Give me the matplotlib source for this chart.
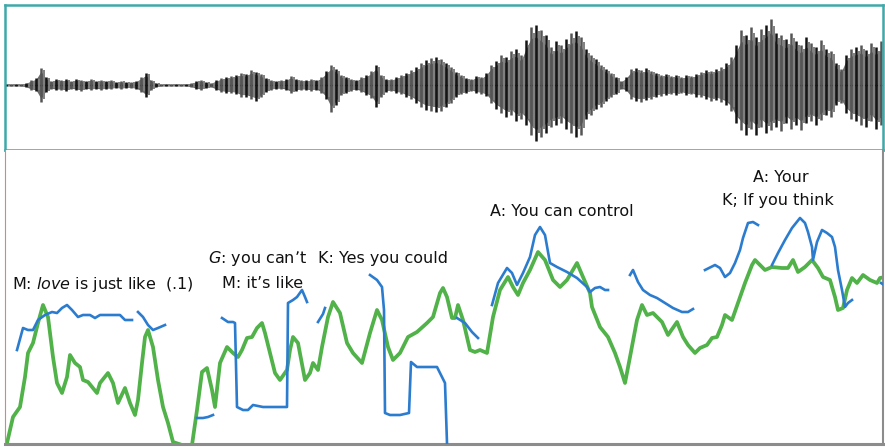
"""Waveform with pitch (blue) and intensity (green) traces and speaker labels."""

import matplotlib

matplotlib.use("Agg")
import matplotlib.pyplot as plt

# --- waveform envelope: sample every 5 units from x=6, amplitude above / below centre
wave_x0, wave_step = 6, 5
wave_top = [1, 1, 1, 1, 2, 5, 7, 17, 8, 4, 6, 5, 6, 4, 6, 5, 4, 6, 4, 5,
            4, 5, 3, 4, 3, 3, 4, 8, 12, 5, 2, 1, 1, 1, 1, 1, 1, 2, 4, 5,
            3, 2, 5, 7, 8, 9, 10, 12, 11, 15, 13, 11, 7, 5, 4, 5, 6, 9, 6, 5,
            5, 6, 5, 8, 14, 20, 16, 10, 8, 6, 5, 8, 10, 14, 20, 10, 6, 6, 8, 10,
            12, 15, 18, 22, 25, 27, 28, 26, 22, 18, 13, 10, 7, 6, 9, 8, 12, 20, 24, 30,
            28, 34, 36, 30, 45, 58, 60, 55, 50, 38, 44, 40, 46, 52, 54, 48, 36, 30, 26, 20,
            16, 12, 8, 4, 8, 16, 17, 15, 17, 14, 12, 10, 11, 9, 10, 8, 10, 9, 11, 13,
            15, 14, 16, 18, 22, 28, 40, 55, 50, 58, 48, 56, 60, 66, 52, 50, 46, 52, 44, 40,
            48, 42, 38, 45, 36, 34, 22, 16, 30, 36, 38, 40, 35, 42, 38, 44]
wave_bot = [1, 1, 1, 1, 2, 5, 6, 17, 7, 4, 5, 5, 6, 4, 5, 6, 4, 5, 4, 5,
            4, 4, 3, 4, 3, 3, 4, 7, 12, 5, 2, 1, 1, 1, 1, 1, 1, 2, 4, 5,
            3, 2, 5, 7, 8, 8, 9, 12, 12, 14, 16, 12, 7, 5, 4, 4, 5, 8, 6, 5,
            5, 6, 5, 8, 14, 27, 20, 10, 8, 6, 5, 7, 10, 13, 22, 12, 7, 6, 8, 9,
            12, 14, 18, 22, 25, 26, 27, 26, 22, 18, 12, 9, 8, 6, 8, 9, 11, 18, 24, 28,
            32, 30, 36, 34, 40, 50, 56, 52, 48, 42, 40, 38, 44, 48, 52, 50, 34, 30, 24, 22,
            16, 12, 9, 4, 6, 14, 16, 17, 15, 14, 12, 11, 10, 9, 10, 8, 10, 9, 12, 12,
            14, 16, 15, 17, 20, 26, 38, 45, 50, 44, 50, 42, 48, 45, 42, 46, 38, 44, 40, 45,
            38, 36, 40, 35, 30, 32, 20, 18, 28, 34, 36, 40, 42, 36, 44, 40]

# --- intensity contour (green)
int_x = [7, 13, 20, 25, 28, 33, 38, 43, 48, 53, 57, 62, 67, 70, 75, 80, 83, 88, 97, 100,
         108, 113, 118, 125, 130, 135, 138, 142, 145, 148, 153, 158, 163, 168, 173, 182, 192, 197, 202, 207,
         212, 215, 220, 227, 233, 238, 242, 247, 252, 257, 262, 265, 270, 275, 280, 287, 290, 293, 298, 305,
         310, 313, 318, 322, 328, 333, 340, 347, 353, 362, 370, 377, 382, 388, 393, 400, 408, 417, 427, 433,
         440, 443, 447, 452, 455, 458, 463, 470, 475, 480, 487, 493, 500, 508, 513, 518, 523, 530, 538, 545,
         553, 560, 567, 577, 583, 590, 592, 600, 608, 615, 620, 625, 630, 637, 642, 647, 653, 662, 668, 677,
         683, 688, 695, 700, 707, 712, 717, 722, 725, 732, 738, 745, 752, 755, 760, 765, 772, 782, 788, 793,
         798, 805, 812, 818, 823, 830, 835, 838, 843, 847, 852, 857, 863, 870, 877, 880, 885]
int_y = [1, 27, 37, 67, 91, 101, 121, 139, 127, 87, 61, 51, 67, 89, 81, 77, 64, 62, 51, 61,
         71, 61, 41, 56, 41, 29, 44, 81, 107, 114, 97, 64, 37, 21, 2, -1, -1, 34, 72, 76,
         54, 37, 81, 97, 91, 87, 94, 106, 107, 116, 121, 111, 91, 71, 64, 74, 94, 107, 101, 64,
         71, 81, 74, 97, 127, 142, 131, 101, 91, 81, 111, 134, 124, 97, 84, 91, 107, 112, 121, 127,
         151, 156, 147, 126, 126, 139, 124, 94, 92, 94, 91, 127, 154, 167, 157, 149, 161, 174, 192, 184,
         164, 157, 164, 181, 167, 151, 137, 117, 107, 91, 77, 61, 87, 124, 139, 129, 131, 122, 109, 122,
         107, 99, 91, 96, 99, 106, 107, 119, 129, 124, 141, 161, 179, 184, 179, 174, 177, 176, 176, 184,
         172, 177, 184, 176, 167, 164, 147, 134, 136, 154, 166, 161, 169, 164, 161, 166, 167]

# --- pitch contour (blue), one list pair per voiced stretch
pitch_segments = [
    ([17, 23, 28, 33, 38, 45, 52, 57, 62, 67, 72, 78, 83, 90, 95, 100, 107, 113, 120, 125, 132],
     [94, 116, 114, 114, 124, 129, 132, 131, 136, 139, 134, 127, 129, 129, 126, 129, 129, 129, 129, 124, 124]),
    ([138, 143, 148, 153, 158, 165],
     [132, 127, 119, 114, 116, 119]),
    ([197, 203, 208, 213],
     [26, 26, 27, 29]),
    ([222, 228, 233, 235, 237, 243, 248, 253, 263, 273, 285, 287, 288, 293, 297, 302, 305, 307],
     [126, 122, 122, 121, 37, 34, 34, 39, 37, 37, 37, 37, 141, 144, 147, 154, 147, 142]),
    ([318, 323, 325],
     [122, 130, 136]),
    ([370, 377, 382, 384, 385, 390, 400, 409, 411, 417, 427, 437, 442, 445, 447],
     [169, 164, 157, 134, 31, 29, 29, 31, 82, 77, 77, 77, 67, 61, 1]),
    ([457, 465, 472, 478],
     [126, 121, 112, 106]),
    ([492, 498, 507, 512, 517, 523, 530, 535, 540, 545, 550, 557, 567, 577, 587, 590, 595, 600, 605, 608],
     [139, 161, 176, 171, 159, 171, 187, 209, 217, 209, 181, 177, 172, 166, 157, 152, 156, 157, 154, 154]),
    ([630, 633, 638, 643, 650, 657, 665, 673, 682, 688, 693],
     [169, 174, 162, 154, 149, 146, 141, 136, 132, 132, 135]),
    ([705, 715, 720, 725, 730, 735, 740, 743, 748, 753, 758],
     [174, 179, 176, 167, 171, 181, 194, 206, 221, 222, 219]),
    ([772, 778, 785, 792, 800, 805, 808, 812, 813, 817, 822, 827, 832, 835, 838, 842, 845, 848, 852],
     [179, 191, 204, 216, 226, 221, 212, 197, 184, 202, 214, 211, 207, 197, 174, 154, 137, 141, 144]),
    ([881, 884],
     [161, 159]),
]

# --- transcript labels: text, x, height, horizontal alignment
label_text = ["M: $\\it{love}$ is just like  (.1)", "$\\it{G}$: you can\u2019t", "M: it\u2019s like",
              "K: Yes you could", "A: You can control", "A: Your", "K; If you think"]
label_x = [12, 208, 222, 318, 490, 781, 778]
label_h = [160, 186, 161, 185, 232, 266, 244]
label_ha = ["left", "left", "left", "left", "left", "center", "center"]

TEAL = "#3fa9aa"
GREEN = "#50b248"
BLUE = "#2b7ccf"

W, H = 885, 447
fig = plt.figure(figsize=(W / 100, H / 100), dpi=100)
fig.patch.set_facecolor("white")

# top panel: waveform
ax_w = fig.add_axes([5 / W, (H - 150) / H, 878 / W, 145 / H])
wx = [wave_x0 + wave_step * i for i in range(len(wave_top))]
ax_w.fill_between(wx, [-0.8 * b for b in wave_bot], [0.8 * t for t in wave_top],
                  color="#6a6a6a", lw=0, zorder=1)
ax_w.axhline(0, color="#222222", lw=1.0, zorder=1)
for i, (x, t, b) in enumerate(zip(wx, wave_top, wave_bot)):
    col = "#151515" if i % 2 == 0 else "#555555"
    ax_w.vlines(x, -b, t, color=col, lw=1.8, zorder=2)
    ax_w.vlines(x + 2.5, -0.85 * b, 0.9 * t, color="#808080", lw=1.4, zorder=2)
ax_w.set_xlim(5, 883)
ax_w.set_ylim(-65, 80)
ax_w.set_xticks([])
ax_w.set_yticks([])
for s in ax_w.spines.values():
    s.set_color(TEAL)
    s.set_linewidth(1.8)

# bottom panel: pitch and intensity
ax = fig.add_axes([5 / W, (H - 444) / H, 878 / W, 294 / H])
ax.plot(int_x, int_y, color=GREEN, lw=2.7, solid_joinstyle="round", zorder=2)
for sx, sy in pitch_segments:
    ax.plot(sx, sy, color=BLUE, lw=1.9, solid_joinstyle="round", zorder=3)
for txt, x, h, ha in zip(label_text, label_x, label_h, label_ha):
    ax.text(x, h, txt, ha=ha, va="center", fontsize=11.5, color="#111111", zorder=4)
ax.set_xlim(5, 883)
ax.set_ylim(0, 294)
ax.set_xticks([])
ax.set_yticks([])
ax.spines["top"].set_visible(False)
ax.spines["left"].set_color("#e08080")
ax.spines["left"].set_linewidth(0.8)
ax.spines["right"].set_color("#8c8c8c")
ax.spines["right"].set_linewidth(1.5)
ax.spines["bottom"].set_color("#8c8c8c")
ax.spines["bottom"].set_linewidth(2.2)

fig.savefig("out.png", dpi=100)
plt.close(fig)
